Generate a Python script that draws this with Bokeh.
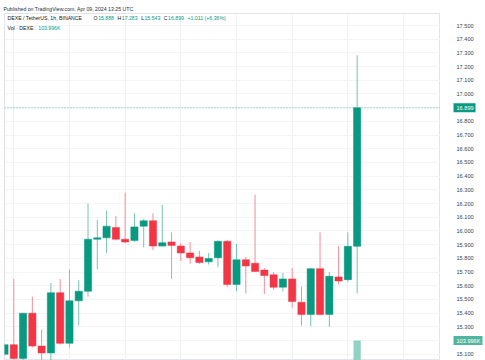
from bokeh.plotting import figure
from bokeh.layouts import row
from bokeh.models import Range1d, FixedTicker, Label, Span, ColumnDataSource
from bokeh.core.properties import value
from bokeh.embed import file_html
from bokeh.resources import INLINE

# ---- data (DEXE/USDT 1h) ----
opens = [15.10, 15.17, 15.07, 15.40, 15.16, 15.11, 15.55, 15.18, 15.49, 15.56,
         15.94, 15.95, 16.025, 15.94, 15.93, 16.035, 16.075, 15.89, 15.92, 15.89,
         15.84, 15.81, 15.775, 15.805, 15.925, 15.61, 15.79, 15.765, 15.715, 15.68,
         15.59, 15.65, 15.48, 15.39, 15.725, 15.39, 15.665, 15.645, 15.888]
highs = [15.18, 15.65, 15.40, 15.52, 15.28, 15.62, 15.65, 15.72, 15.64, 16.20,
         16.08, 16.15, 16.11, 16.28, 16.13, 16.09, 16.13, 16.19, 15.99, 15.91,
         15.92, 15.855, 15.84, 15.93, 15.935, 15.905, 15.81, 16.265, 15.73, 15.70,
         15.695, 15.73, 15.595, 15.73, 15.99, 15.70, 15.89, 15.99, 17.283]
lows = [15.09, 15.06, 15.05, 15.15, 15.05, 15.05, 15.17, 15.15, 15.31, 15.52,
        15.72, 15.84, 15.93, 15.91, 15.92, 15.88, 15.86, 15.885, 15.65, 15.78,
        15.76, 15.76, 15.755, 15.735, 15.59, 15.56, 15.545, 15.70, 15.54, 15.57,
        15.56, 15.44, 15.31, 15.305, 15.385, 15.30, 15.61, 15.63, 15.543]
closes = [15.17, 15.07, 15.40, 15.16, 15.11, 15.55, 15.18, 15.49, 15.56, 15.94,
          15.95, 16.035, 15.94, 15.92, 16.03, 16.075, 15.89, 15.915, 15.895, 15.84,
          15.805, 15.77, 15.80, 15.925, 15.61, 15.79, 15.745, 15.705, 15.675, 15.59,
          15.65, 15.485, 15.39, 15.725, 15.39, 15.67, 15.635, 15.888, 16.899]
vol_index = [38]
vol_values = [103996]
price_ticks = [15.1, 15.2, 15.3, 15.4, 15.5, 15.6, 15.7, 15.8, 15.9, 16.0, 16.1, 16.2,
               16.3, 16.4, 16.5, 16.6, 16.7, 16.8, 16.9, 17.0, 17.1, 17.2, 17.3, 17.4, 17.5]
price_labels = [f"{t:.3f}" for t in price_ticks]
grid_candles = [1, 7, 13, 19, 25, 31, 37, 43]

GREEN = "#089981"
RED = "#f23645"
GREEN_W = "#74c3b1"
RED_W = "#f58d97"
DARK = "#131722"
FONT = "Liberation Sans"

n = len(opens)
idx = list(range(n))
up = [c >= o for o, c in zip(opens, closes)]
src = ColumnDataSource(dict(
    x=idx, o=opens, h=highs, l=lows, c=closes,
    top=[max(o, c) for o, c in zip(opens, closes)],
    bot=[min(o, c) for o, c in zip(opens, closes)],
    col=[GREEN if u else RED for u in up],
    wcol=[GREEN_W if u else RED_W for u in up],
))

TOP = 13
FRAME_H = 360 - TOP
X0, X1 = 0.0, 46.98
Y0, Y1 = 15.0547, 17.5876
yr = Range1d(Y0, Y1)
vr = Range1d(0, vol_values[0] * FRAME_H / 20.0)

p = figure(width=440, height=360, output_backend="svg", toolbar_location=None,
           title="Published on TradingView.com, Apr 09, 2024 13:25 UTC",
           x_range=Range1d(X0, X1), y_range=yr,
           min_border_left=4, min_border_right=0,
           min_border_top=TOP, min_border_bottom=0)
p.title.text_font = FONT
p.title.text_font_size = "5.2px"
p.title.text_font_style = "normal"
p.title.text_color = "#2a2e39"
p.title.align = "left"
p.title.offset = -1
p.title.standoff = 4
p.outline_line_color = "#e0e3eb"

p.xaxis.visible = False
p.yaxis.visible = False
p.xgrid.ticker = FixedTicker(ticks=grid_candles)
p.xgrid.grid_line_color = "#eef0f4"
p.ygrid.ticker = FixedTicker(ticks=price_ticks)
p.ygrid.grid_line_color = "#f2f4f8"

# volume
p.extra_y_ranges = {"vol": vr}
p.vbar(x=vol_index, top=vol_values, bottom=0, width=0.78, y_range_name="vol",
       fill_color="#92d2c3", line_color=None)

# candles
p.segment(x0="x", y0="h", x1="x", y1="l", source=src, line_color="wcol", line_width=1)
p.vbar(x="x", top="top", bottom="bot", width=0.78, source=src,
       fill_color="col", line_color="col", line_width=0.5)

# last price line
p.add_layout(Span(location=closes[-1], dimension="width", line_color=GREEN,
                  line_dash="1 2", line_alpha=0.7, line_width=1))

# legend texts
W = {' ': 278, '/': 278, ',': 278, '.': 278, ':': 278, '(': 333, ')': 333, '+': 584,
     '%': 889, '·': 278, 'A': 667, 'B': 667, 'C': 722, 'D': 722, 'E': 667, 'H': 722,
     'I': 278, 'K': 667, 'L': 556, 'N': 722, 'O': 778, 'S': 667, 'T': 611, 'U': 722,
     'V': 667, 'X': 667, 'e': 556, 'h': 556, 'l': 222, 'o': 556, 'r': 333, 't': 278}


def tw(s, fs):
    return sum(W.get(ch, 556) for ch in s) / 1000.0 * fs * 1.12


FS = 5.2
chg = closes[-1] - opens[-1]
pct = chg / opens[-1] * 100
row1 = [("DEXE / TetherUS, 1h, BINANCE ", DARK),
        ("O", DARK), (f"{opens[-1]:.3f} ", GREEN),
        ("H", DARK), (f"{highs[-1]:.3f} ", GREEN),
        ("L", DARK), (f"{lows[-1]:.3f} ", GREEN),
        ("C", DARK), (f"{closes[-1]:.3f} ", GREEN),
        (f"+{chg:.3f} (+{pct:.2f}%)", GREEN)]
row2 = [("Vol · DEXE ", DARK), (f"{vol_values[0]/1000:.3f}K", GREEN)]

for rw, yoff in ((row1, -4), (row2, -14)):
    xo = 3.0
    for txt, colr in rw:
        p.add_layout(Label(x=X0, y=Y1, x_offset=xo, y_offset=yoff, text=txt,
                           text_align="left", text_baseline="middle", text_font=FONT,
                           text_font_size=f"{FS}px", text_color=colr))
        xo += tw(txt, FS)

# ---- price scale ----
pa = figure(width=45, height=360, output_backend="svg", toolbar_location=None,
            x_range=Range1d(0, 45), y_range=yr,
            min_border_left=0, min_border_right=0, min_border_top=TOP, min_border_bottom=0)
pa.outline_line_color = None
pa.xaxis.visible = False
pa.yaxis.visible = False
pa.grid.visible = False
pa.extra_y_ranges = {"vol": vr}

pa.text(x=[16] * len(price_ticks), y=price_ticks, text=price_labels,
        text_align="left", text_baseline="middle", text_font=value(FONT),
        text_font_size="5.6px", text_color="#3b3f4a")

pa.rect(x=[24], y=[closes[-1]], width=22, height=9, height_units="screen",
        fill_color=GREEN, line_color=None)
pa.text(x=[16], y=[closes[-1]], text=[f"{closes[-1]:.3f}"],
        text_align="left", text_baseline="middle", text_font=value(FONT),
        text_font_size="5.6px", text_color="white")

pa.rect(x=[27.5], y=vol_values, width=29, height=9, height_units="screen",
        fill_color="#4fb4a0", line_color=None, y_range_name="vol")
pa.text(x=[16], y=vol_values, text=[f"{vol_values[0]/1000:.3f}K"],
        text_align="left", text_baseline="middle", text_font=value(FONT),
        text_font_size="5.6px", text_color="white", y_range_name="vol")

open("out.html", "w").write(file_html(row(p, pa), INLINE))
